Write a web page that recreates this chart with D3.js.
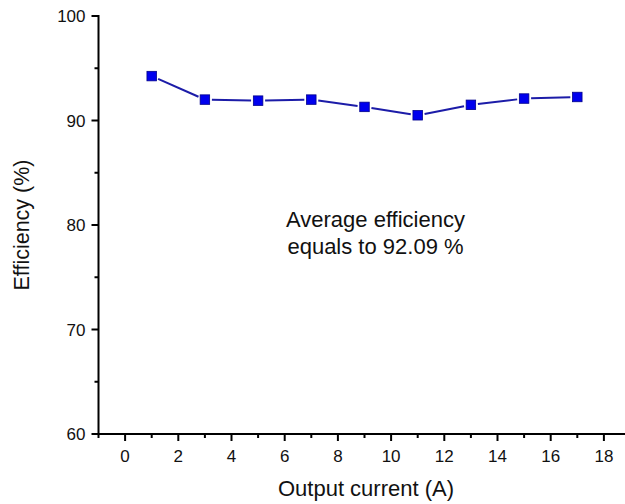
<!DOCTYPE html>
<html>
<head>
<meta charset="utf-8">
<script src="https://cdn.jsdelivr.net/npm/d3@7"></script>
<style>
  html, body { margin: 0; padding: 0; background: #fff; }
  svg { display: block; font-family: "Liberation Sans", Arial, sans-serif; }
</style>
</head>
<body>
<svg id="chart" width="625" height="504"></svg>
<script>
const currents = [1, 3, 5, 7, 9, 11, 13, 15, 17];
const efficiency = [94.25, 92.0, 91.9, 92.0, 91.3, 90.5, 91.5, 92.1, 92.25];
const xTicks = [0, 2, 4, 6, 8, 10, 12, 14, 16, 18];
const xMinor = [-1, 1, 3, 5, 7, 9, 11, 13, 15, 17, 19];
const yTicks = [60, 70, 80, 90, 100];
const yMinor = [65, 75, 85, 95];
const annotation = ["Average efficiency", "equals to 92.09 %"];

const svg = d3.select("#chart");
const x0 = 98.5, xUnit = 26.6;
const x = d3.scaleLinear().domain([-1, 20]).range([x0, x0 + 21 * xUnit]);
const y = d3.scaleLinear().domain([60, 100]).range([434, 16]);

// X axis
const xAxis = svg.append("g").attr("transform", `translate(0,${y(60)})`);
xAxis.append("line").attr("x1", x(-1)).attr("x2", 625).attr("stroke", "#000").attr("stroke-width", 2);
xAxis.selectAll("line.maj").data(xTicks).join("line")
  .attr("x1", d => x(d)).attr("x2", d => x(d)).attr("y1", 0).attr("y2", 7)
  .attr("stroke", "#000").attr("stroke-width", 2);
xAxis.selectAll("line.min").data(xMinor).join("line")
  .attr("x1", d => x(d)).attr("x2", d => x(d)).attr("y1", 0).attr("y2", 4)
  .attr("stroke", "#000").attr("stroke-width", 2);
xAxis.selectAll("text").data(xTicks).join("text")
  .attr("x", d => x(d)).attr("y", 28).attr("text-anchor", "middle")
  .attr("font-size", 17).attr("fill", "#111").text(d => d);

// Y axis
const yAxis = svg.append("g").attr("transform", `translate(${x(-1)},0)`);
yAxis.append("line").attr("y1", y(60) + 1).attr("y2", y(100) - 1).attr("stroke", "#000").attr("stroke-width", 2);
yAxis.selectAll("line.maj").data(yTicks).join("line")
  .attr("y1", d => y(d)).attr("y2", d => y(d)).attr("x1", 0).attr("x2", -7)
  .attr("stroke", "#000").attr("stroke-width", 2);
yAxis.selectAll("line.min").data(yMinor).join("line")
  .attr("y1", d => y(d)).attr("y2", d => y(d)).attr("x1", 0).attr("x2", -4)
  .attr("stroke", "#000").attr("stroke-width", 2);
yAxis.selectAll("text").data(yTicks).join("text")
  .attr("x", -13).attr("y", d => y(d) + 6).attr("text-anchor", "end")
  .attr("font-size", 17).attr("fill", "#111").text(d => d);

// Axis titles
svg.append("text").attr("x", 366).attr("y", 496).attr("text-anchor", "middle")
  .attr("font-size", 22).attr("fill", "#111").text("Output current (A)");
svg.append("text").attr("transform", `translate(29,225) rotate(-90)`).attr("text-anchor", "middle")
  .attr("font-size", 21.5).attr("fill", "#111").text("Efficiency (%)");

// Data line with small gaps at markers
const pts = currents.map((c, i) => [x(c), y(efficiency[i])]);
const segs = d3.pairs(pts).map(([a, b]) => {
  const dx = b[0] - a[0], dy = b[1] - a[1], L = Math.hypot(dx, dy), g = 7;
  return [a[0] + dx / L * g, a[1] + dy / L * g, b[0] - dx / L * g, b[1] - dy / L * g];
});
svg.append("g").selectAll("line").data(segs).join("line")
  .attr("x1", d => d[0]).attr("y1", d => d[1]).attr("x2", d => d[2]).attr("y2", d => d[3])
  .attr("stroke", "#1c1ca8").attr("stroke-width", 2);

const ms = 9.5;
svg.append("g").selectAll("rect").data(pts).join("rect")
  .attr("x", d => d[0] - ms / 2).attr("y", d => d[1] - ms / 2)
  .attr("width", ms).attr("height", ms)
  .attr("fill", "#0000ee").attr("stroke", "#00008b").attr("stroke-width", 0.8);

// Annotation
svg.append("g").selectAll("text").data(annotation).join("text")
  .attr("x", 375.5).attr("y", (d, i) => 227 + i * 27).attr("text-anchor", "middle")
  .attr("font-size", 22).attr("fill", "#111").text(d => d);
</script>
</body>
</html>
